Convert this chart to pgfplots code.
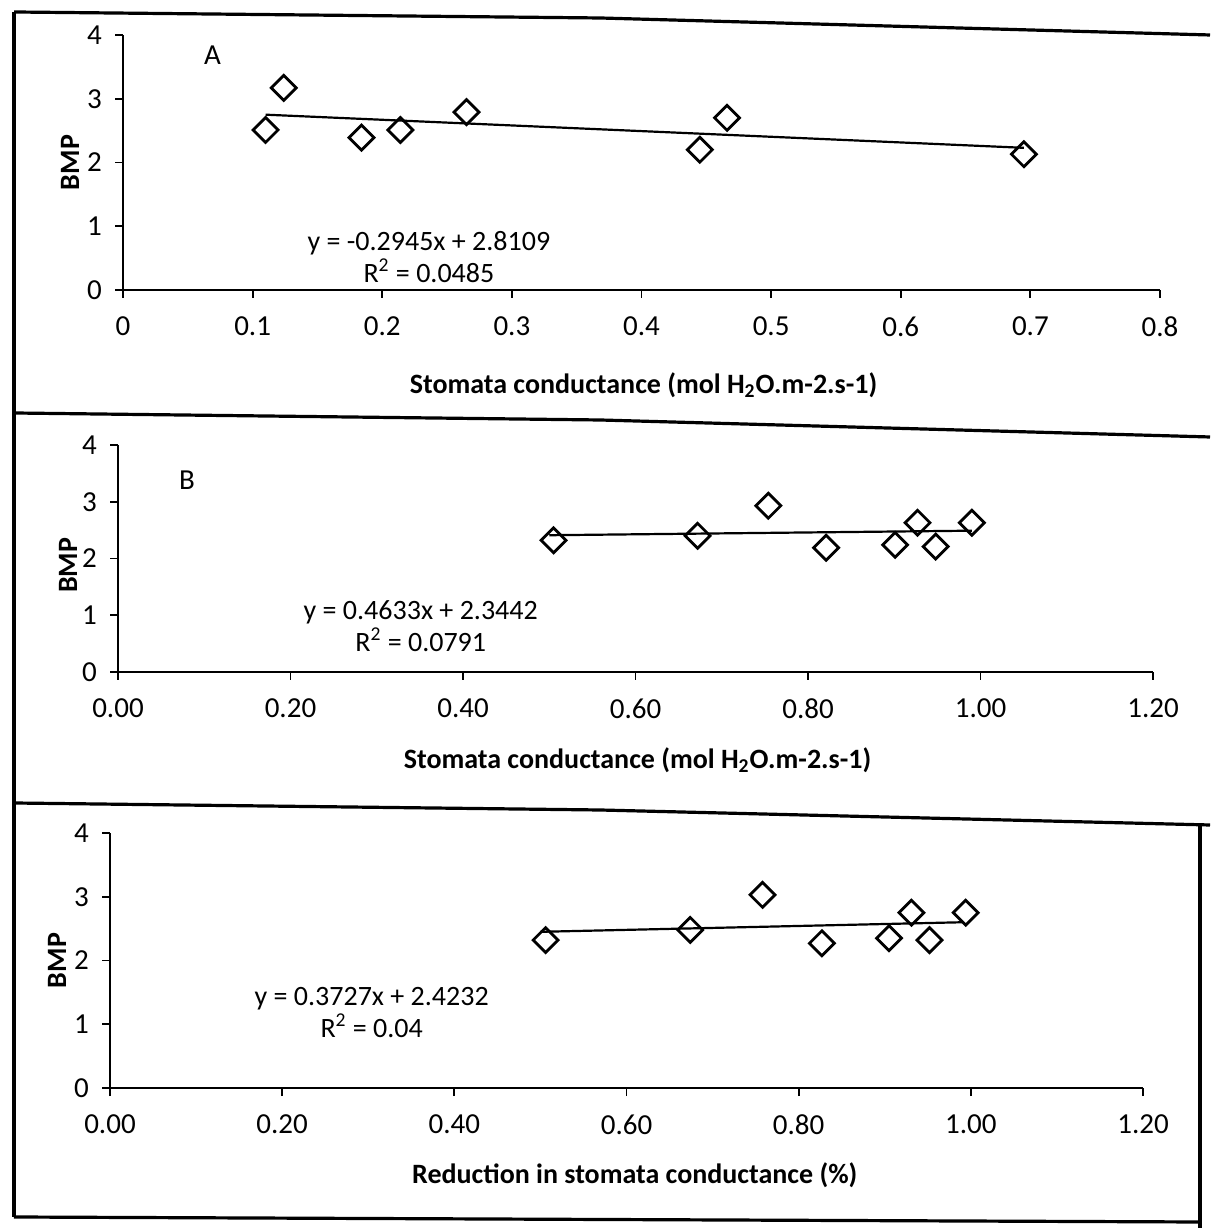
\documentclass[border=0pt]{standalone}
\usepackage{fontspec}
\setmainfont{Carlito}
\usepackage{pgfplots}
\pgfplotsset{compat=1.18}
\pgfplotsset{
  panel/.style={
    scale only axis,
    anchor=south west,
    axis x line=bottom, axis y line=left,
    axis line style={-, line width=0.9pt},
    tick style={line width=0.9pt, black},
    tick align=outside,
    major tick length=4pt,
    ymin=0, ymax=4, ytick={0,1,2,3,4},
    /pgf/number format/assume math mode=true,
    font=\fontsize{14}{16}\selectfont,
    ticklabel style={font=\fontsize{14.5}{16}\selectfont},
    xticklabel style={yshift=-6pt},
    yticklabel style={xshift=-3pt},
    ylabel={\bfseries BMP},
    clip=false,
  },
  pts/.style={only marks, mark=square, mark size=4.4pt, mark options={rotate=45, line width=1.4pt, draw=black, fill=white}},
  trend/.style={black, line width=1.1pt, no marks},
}
\begin{document}
\begin{tikzpicture}
\fill[white] (0,0) rectangle (605pt,615pt);
\useasboundingbox (0,0) rectangle (605pt,615pt);
% panel frames
\begin{scope}[line width=1.6pt, black]
\draw (7pt,609pt) -- (7pt,6.5pt);
\draw (7pt,609pt) -- (300pt,606pt) -- (605pt,597.5pt);
\draw (7pt,408.5pt) -- (300pt,405pt) -- (605pt,396.5pt);
\draw (7pt,213.5pt) -- (300pt,210pt) -- (605pt,202.5pt);
\draw (7pt,6.5pt) -- (600pt,4pt);
\draw (600pt,202.5pt) -- (600pt,1pt);
\end{scope}

% Panel A
\begin{axis}[panel, at={(61.5pt,470pt)}, width=518.5pt, height=127.5pt,
  xmin=0, xmax=0.8, xtick={0,0.1,0.2,0.3,0.4,0.5,0.6,0.7,0.8},
  xticklabels={0,0.1,0.2,0.3,0.4,0.5,0.6,0.7,0.8},
  xlabel={\bfseries Stomata conductance (mol H\textsubscript{2}O.m-2.s-1)},
  x label style={at={(axis description cs:0.502,0)}, anchor=center, yshift=-47.5pt},
  y label style={at={(axis description cs:-0.0511,0.5)}, anchor=center},
]
\addplot[pts] coordinates {(0.110,2.51) (0.124,3.17) (0.184,2.39) (0.214,2.51) (0.265,2.79) (0.445,2.20) (0.466,2.70) (0.695,2.13)};
\addplot[trend] coordinates {(0.11,2.75) (0.695,2.23)};
\node[align=center, font=\fontsize{14}{16}\selectfont] at (axis cs:0.236,0.52) {y = -0.2945x + 2.8109\\R\textsuperscript{2} = 0.0485};
\node[font=\fontsize{14.5}{16}\selectfont] at (axis cs:0.069,3.69) {A};
\end{axis}

% Panel B
\begin{axis}[panel, at={(59pt,279pt)}, width=517.5pt, height=113.5pt,
  xmin=0, xmax=1.2, xtick={0,0.2,0.4,0.6,0.8,1.0,1.2},
  xticklabels={0.00,0.20,0.40,0.60,0.80,1.00,1.20},
  xlabel={\bfseries Stomata conductance (mol H\textsubscript{2}O.m-2.s-1)},
  x label style={at={(axis description cs:0.502,0)}, anchor=center, yshift=-44pt},
  y label style={at={(axis description cs:-0.0483,0.47)}, anchor=center},
]
\addplot[pts] coordinates {(0.505,2.32) (0.672,2.40) (0.754,2.93) (0.821,2.19) (0.901,2.24) (0.927,2.63) (0.948,2.21) (0.990,2.63)};
\addplot[trend] coordinates {(0.50,2.41) (0.99,2.49)};
\node[align=center, font=\fontsize{14}{16}\selectfont] at (axis cs:0.351,0.81) {y = 0.4633x + 2.3442\\R\textsuperscript{2} = 0.0791};
\node[font=\fontsize{14.5}{16}\selectfont] at (axis cs:0.080,3.38) {B};
\end{axis}

% Panel C
\begin{axis}[panel, at={(55pt,71pt)}, width=516.5pt, height=127.5pt,
  xmin=0, xmax=1.2, xtick={0,0.2,0.4,0.6,0.8,1.0,1.2},
  xticklabels={0.00,0.20,0.40,0.60,0.80,1.00,1.20},
  xlabel={\bfseries Reduction in stomata conductance (\%)},
  x label style={at={(axis description cs:0.508,0)}, anchor=center, yshift=-43.5pt},
  y label style={at={(axis description cs:-0.0513,0.5)}, anchor=center},
]
\addplot[pts] coordinates {(0.506,2.32) (0.674,2.48) (0.758,3.03) (0.827,2.27) (0.905,2.35) (0.931,2.75) (0.952,2.32) (0.994,2.75)};
\addplot[trend] coordinates {(0.50,2.45) (0.99,2.60)};
\node[align=center, font=\fontsize{14}{16}\selectfont] at (axis cs:0.304,1.19) {y = 0.3727x + 2.4232\\R\textsuperscript{2} = 0.04};
\end{axis}
\end{tikzpicture}
\end{document}
